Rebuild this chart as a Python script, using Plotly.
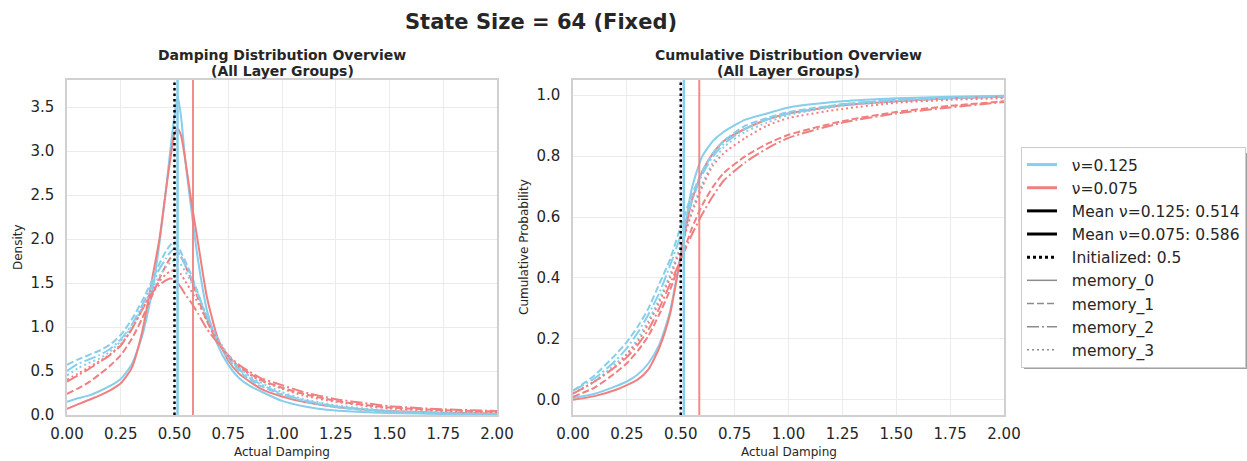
import plotly.graph_objects as go

# ---------------- data ----------------
MEMORY_GROUPS = ["memory_0", "memory_1", "memory_2", "memory_3"]
NU_LABELS = ["ν=0.125", "ν=0.075"]
MEAN_NU_0125 = 0.514
MEAN_NU_0075 = 0.586
INIT_VALUE = 0.5

# density x grid
X_DENS = [0, 0.05, 0.1, 0.15, 0.2, 0.25, 0.3, 0.35, 0.4, 0.43, 0.46, 0.48, 0.5, 0.515, 0.53,
          0.55, 0.58, 0.61, 0.65, 0.7, 0.75, 0.8, 0.85, 0.9, 1.0, 1.1, 1.25, 1.4, 1.5, 1.75, 2.0]

dens_nu0125_m0 = [0.15, 0.19, 0.22, 0.27, 0.33, 0.41, 0.57, 0.9, 1.45, 1.95, 2.55, 3.0, 3.4, 3.62, 3.4,
                  2.9, 2.3, 1.75, 1.2, 0.8, 0.57, 0.42, 0.33, 0.27, 0.16, 0.1, 0.05, 0.03, 0.022, 0.012, 0.008]
dens_nu0125_m1 = [0.57, 0.63, 0.68, 0.73, 0.8, 0.91, 1.08, 1.3, 1.55, 1.72, 1.86, 1.93, 1.97, 1.93, 1.85,
                  1.75, 1.58, 1.38, 1.1, 0.84, 0.64, 0.5, 0.4, 0.33, 0.23, 0.16, 0.09, 0.05, 0.035, 0.018, 0.01]
dens_nu0125_m2 = [0.5, 0.58, 0.63, 0.68, 0.75, 0.86, 1.02, 1.25, 1.5, 1.66, 1.78, 1.85, 1.89, 1.86, 1.8,
                  1.7, 1.55, 1.37, 1.12, 0.86, 0.66, 0.52, 0.42, 0.35, 0.24, 0.17, 0.1, 0.06, 0.04, 0.02, 0.012]
dens_nu0125_m3 = [0.45, 0.53, 0.59, 0.64, 0.72, 0.84, 1.0, 1.22, 1.45, 1.58, 1.68, 1.73, 1.76, 1.75, 1.71,
                  1.63, 1.5, 1.35, 1.13, 0.88, 0.68, 0.54, 0.44, 0.37, 0.26, 0.18, 0.11, 0.07, 0.05, 0.025, 0.015]

dens_nu0075_m0 = [0.07, 0.12, 0.17, 0.22, 0.28, 0.36, 0.53, 0.95, 1.6, 2.0, 2.55, 2.9, 3.2, 3.25, 3.18,
                  2.9, 2.4, 1.95, 1.35, 0.88, 0.62, 0.47, 0.38, 0.3, 0.21, 0.15, 0.09, 0.06, 0.045, 0.025, 0.018]
dens_nu0075_m1 = [0.24, 0.3, 0.37, 0.46, 0.56, 0.68, 0.86, 1.1, 1.38, 1.55, 1.7, 1.78, 1.83, 1.84, 1.8,
                  1.7, 1.52, 1.32, 1.07, 0.83, 0.66, 0.55, 0.47, 0.4, 0.31, 0.24, 0.16, 0.11, 0.085, 0.055, 0.04]
dens_nu0075_m2 = [0.38, 0.45, 0.52, 0.6, 0.68, 0.79, 0.97, 1.2, 1.4, 1.48, 1.53, 1.55, 1.54, 1.5, 1.45,
                  1.37, 1.27, 1.15, 0.98, 0.82, 0.68, 0.57, 0.49, 0.42, 0.34, 0.26, 0.18, 0.13, 0.1, 0.065, 0.045]
dens_nu0075_m3 = [0.4, 0.47, 0.54, 0.61, 0.69, 0.8, 0.97, 1.2, 1.42, 1.52, 1.6, 1.63, 1.65, 1.64, 1.6,
                  1.52, 1.4, 1.27, 1.08, 0.85, 0.67, 0.55, 0.46, 0.39, 0.3, 0.22, 0.15, 0.1, 0.075, 0.045, 0.03]

# cumulative x grid
X_CDF = [0, 0.1, 0.2, 0.25, 0.3, 0.35, 0.4, 0.45, 0.5, 0.55, 0.6, 0.65, 0.7, 0.8, 0.9, 1.0, 1.25, 1.5, 1.75, 2.0]

cdf_nu0125_m0 = [0.006, 0.02, 0.045, 0.06, 0.083, 0.12, 0.18, 0.29, 0.48, 0.69, 0.80, 0.85, 0.88, 0.92, 0.94, 0.96, 0.98, 0.99, 0.995, 0.998]
cdf_nu0125_m1 = [0.03, 0.08, 0.15, 0.19, 0.24, 0.30, 0.38, 0.46, 0.57, 0.67, 0.75, 0.81, 0.85, 0.90, 0.925, 0.945, 0.97, 0.985, 0.992, 0.997]
cdf_nu0125_m2 = [0.03, 0.07, 0.13, 0.17, 0.22, 0.28, 0.35, 0.44, 0.54, 0.65, 0.74, 0.80, 0.84, 0.89, 0.92, 0.94, 0.97, 0.985, 0.991, 0.996]
cdf_nu0125_m3 = [0.02, 0.06, 0.12, 0.15, 0.20, 0.26, 0.33, 0.41, 0.51, 0.62, 0.71, 0.78, 0.83, 0.88, 0.91, 0.935, 0.965, 0.98, 0.99, 0.995]

cdf_nu0075_m0 = [0.0, 0.012, 0.033, 0.048, 0.066, 0.10, 0.17, 0.28, 0.47, 0.65, 0.75, 0.81, 0.85, 0.89, 0.92, 0.94, 0.967, 0.98, 0.99, 0.995]
cdf_nu0075_m1 = [0.01, 0.04, 0.09, 0.12, 0.16, 0.21, 0.28, 0.36, 0.46, 0.56, 0.64, 0.70, 0.745, 0.80, 0.84, 0.87, 0.915, 0.945, 0.965, 0.98]
cdf_nu0075_m2 = [0.02, 0.06, 0.11, 0.14, 0.18, 0.23, 0.30, 0.38, 0.46, 0.54, 0.61, 0.67, 0.72, 0.78, 0.825, 0.86, 0.91, 0.94, 0.96, 0.978]
cdf_nu0075_m3 = [0.02, 0.06, 0.11, 0.15, 0.19, 0.25, 0.32, 0.40, 0.50, 0.61, 0.70, 0.77, 0.81, 0.86, 0.90, 0.925, 0.955, 0.975, 0.985, 0.99]

X_TICKS = [0.0, 0.25, 0.5, 0.75, 1.0, 1.25, 1.5, 1.75, 2.0]
Y_TICKS_DENS = [0.0, 0.5, 1.0, 1.5, 2.0, 2.5, 3.0, 3.5]
Y_TICKS_CDF = [0.0, 0.2, 0.4, 0.6, 0.8, 1.0]

# ---------------- styling ----------------
BLUE = "#87CEEB"
RED = "#F08080"
DASHES = ["solid", "7px,3px", "12px,3px,2px,3px", "2px,3px"]
FONT = "DejaVu Sans"
TXT = "#262626"
W, H = 1247, 461

dens_blue = [dens_nu0125_m0, dens_nu0125_m1, dens_nu0125_m2, dens_nu0125_m3]
dens_red = [dens_nu0075_m0, dens_nu0075_m1, dens_nu0075_m2, dens_nu0075_m3]
cdf_blue = [cdf_nu0125_m0, cdf_nu0125_m1, cdf_nu0125_m2, cdf_nu0125_m3]
cdf_red = [cdf_nu0075_m0, cdf_nu0075_m1, cdf_nu0075_m2, cdf_nu0075_m3]

fig = go.Figure()

for i in range(4):
    for ys, col in ((dens_blue[i], BLUE), (dens_red[i], RED)):
        fig.add_trace(go.Scatter(x=X_DENS, y=ys, mode="lines", xaxis="x", yaxis="y",
                                 line=dict(color=col, width=2, dash=DASHES[i], shape="spline", smoothing=0.6),
                                 showlegend=False, hoverinfo="skip"))
    for ys, col in ((cdf_blue[i], BLUE), (cdf_red[i], RED)):
        fig.add_trace(go.Scatter(x=X_CDF, y=ys, mode="lines", xaxis="x2", yaxis="y2",
                                 line=dict(color=col, width=2, dash=DASHES[i], shape="spline", smoothing=0.6),
                                 showlegend=False, hoverinfo="skip"))

# legend entries
legend_items = [
    (NU_LABELS[0], BLUE, "solid", 3),
    (NU_LABELS[1], RED, "solid", 3),
    (f"Mean ν=0.125: {MEAN_NU_0125}", "black", "solid", 3),
    (f"Mean ν=0.075: {MEAN_NU_0075}", "black", "solid", 3),
    (f"Initialized: {INIT_VALUE}", "black", "3px,3px", 3),
]
for g, d in zip(MEMORY_GROUPS, DASHES):
    legend_items.append((g, "#8c8c8c", d, 1.5))

PAD = "\u00a0\u00a0"
for k, (name, col, dash, wd) in enumerate(legend_items):
    fig.add_trace(go.Scatter(x=[None], y=[None], mode="lines", name=PAD + name, xaxis="x", yaxis="y",
                             legendgroup=f"g{k}",
                             line=dict(color=col, width=wd, dash=dash), showlegend=True))

# vertical reference lines
shapes = []
for xr in ("x", "x2"):
    yr = "y domain" if xr == "x" else "y2 domain"
    shapes.append(dict(type="line", xref=xr, yref=yr, x0=MEAN_NU_0125, x1=MEAN_NU_0125, y0=0, y1=1,
                       line=dict(color=BLUE, width=2.5), layer="above"))
    shapes.append(dict(type="line", xref=xr, yref=yr, x0=MEAN_NU_0075, x1=MEAN_NU_0075, y0=0, y1=1,
                       line=dict(color=RED, width=2), opacity=0.9, layer="above"))
    shapes.append(dict(type="line", xref=xr, yref=yr, x0=INIT_VALUE, x1=INIT_VALUE, y0=0, y1=1,
                       line=dict(color="black", width=2.5, dash="2.5px,3px"), layer="above"))

# legend shadow (drawn behind legend box)
shapes.append(dict(type="rect", xref="paper", yref="paper", x0=1024 / W, x1=1250 / W,
                   y0=1 - 369 / H, y1=1 - 153 / H, line=dict(width=0), fillcolor="#a0a0a0", layer="below"))

# layout geometry (pixels -> paper)
L1, R1 = 67, 497
L2, R2 = 573, 1004
TOP, BOT = 80, 415
dom1 = [L1 / W, R1 / W]
dom2 = [L2 / W, R2 / W]
ydom = [(H - BOT) / H, (H - TOP) / H]

axis_common = dict(showgrid=True, gridcolor="#ebebeb", gridwidth=1, zeroline=False,
                   showline=True, mirror=True, linecolor="#d0d0d0", linewidth=1.5,
                   ticks="outside", tickcolor="rgba(0,0,0,0)", automargin=False,
                   tickfont=dict(family=FONT, size=15, color=TXT))


def ann(text, x, y, size, angle=0, bold=False):
    return dict(text=f"<b>{text}</b>" if bold else text, x=x / W, y=1 - y / H, xref="paper", yref="paper",
                xanchor="center", yanchor="middle", showarrow=False, textangle=angle,
                font=dict(family=FONT, size=size, color=TXT))


annotations = [
    ann("State Size = 64 (Fixed)", 541, 22, 21, bold=True),
    ann("Damping Distribution Overview", (L1 + R1) / 2, 55, 14, bold=True),
    ann("(All Layer Groups)", (L1 + R1) / 2, 71, 14, bold=True),
    ann("Cumulative Distribution Overview", (L2 + R2) / 2, 55, 14, bold=True),
    ann("(All Layer Groups)", (L2 + R2) / 2, 71, 14, bold=True),
    ann("Actual Damping", (L1 + R1) / 2, 452, 12),
    ann("Actual Damping", (L2 + R2) / 2, 452, 12),
    ann("Density", 18, 247, 12, angle=-90),
    ann("Cumulative Probability", 524, 247, 12, angle=-90),
]

fig.update_layout(
    width=W, height=H,
    margin=dict(l=0, r=0, t=0, b=0, autoexpand=False),
    paper_bgcolor="white", plot_bgcolor="white",
    font=dict(family=FONT, color=TXT),
    xaxis=dict(domain=dom1, range=[0, 2], tickvals=X_TICKS, tickformat=".2f", ticklen=4, anchor="y", **axis_common),
    yaxis=dict(domain=ydom, range=[0, 3.807], tickvals=Y_TICKS_DENS, tickformat=".1f", ticklen=8, anchor="x", **axis_common),
    xaxis2=dict(domain=dom2, range=[0, 2], tickvals=X_TICKS, tickformat=".2f", ticklen=4, anchor="y2", **axis_common),
    yaxis2=dict(domain=ydom, range=[-0.05, 1.05], tickvals=Y_TICKS_CDF, tickformat=".1f", ticklen=8, anchor="x2", **axis_common),
    shapes=shapes,
    annotations=annotations,
    legend=dict(x=1021 / W, y=1 - 147 / H, xanchor="left", yanchor="top",
                bordercolor="#cccccc", borderwidth=1, bgcolor="white",
                font=dict(family=FONT, size=15.5, color=TXT), tracegroupgap=0),
    showlegend=True,
)

fig.write_html("out.html", config={"displayModeBar": False},
               post_script="document.body.style.margin='0px';document.body.style.overflow='hidden';")
